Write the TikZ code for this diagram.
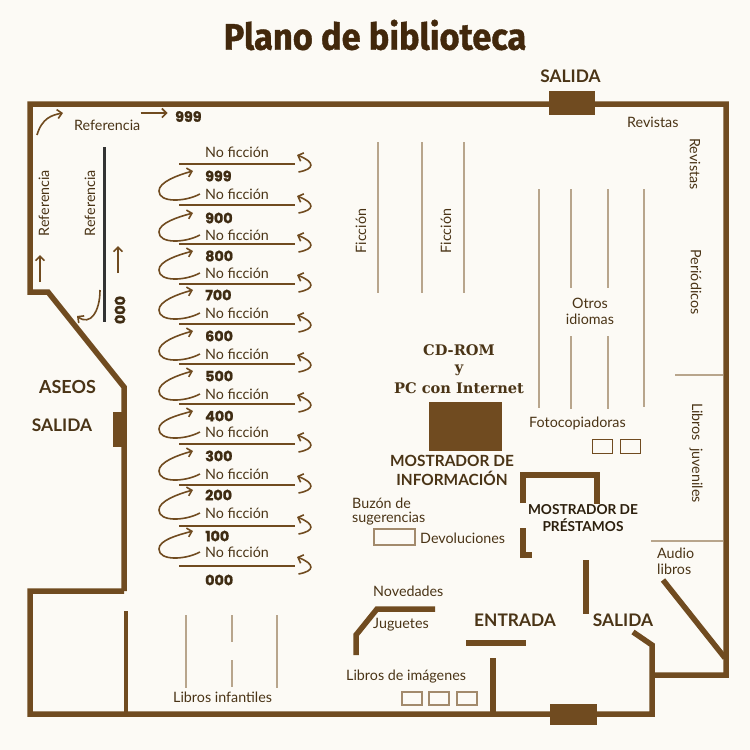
\documentclass[tikz,border=0pt]{standalone}
\usepackage{fontspec}
\usepackage{tikz}
\usetikzlibrary{arrows.meta}
\setmainfont{Lato}
\newfontfamily\numfont[BoldFeatures={FakeBold=1}]{Poppins}
\newfontfamily\titlefont[FakeStretch=0.93,BoldFeatures={FakeBold=1}]{Fira Sans}
\newfontfamily\slabfont{DejaVu Serif}
\definecolor{paper}{HTML}{FCFAF5}
\definecolor{brown}{HTML}{704B20}
\definecolor{tan}{HTML}{B8A58C}
\definecolor{ink}{HTML}{4A3416}
\definecolor{deep}{HTML}{42280C}

\begin{document}
\begin{tikzpicture}[
        x=1pt, y=-1pt,
        wall/.style={draw=brown, line width=5.5pt, miter limit=20},
        door/.style={fill=brown, draw=none},
        shelf/.style={draw=tan, line width=1.6pt},
        rack/.style={draw=brown, line width=2pt},
        flow/.style={draw=brown, line width=1.6pt, -{Straight Barb[length=4.5pt,width=9pt]}},
        tag/.style={font=\fontsize{14.3}{16.5}\selectfont, text=ink, inner sep=0pt, align=center},
        tagl/.style={tag, anchor=west, align=left},
        num/.style={font=\fontsize{14.3}{15}\selectfont\numfont\bfseries, text=ink!85!black, inner sep=0pt},
        head/.style={font=\fontsize{17.3}{19}\selectfont\bfseries, text=ink, inner sep=0pt, align=center},
        slab/.style={font=\fontsize{14.6}{20}\selectfont\slabfont\bfseries, text=ink, inner sep=0pt}
    ]
        \useasboundingbox[fill=paper] (0,0) rectangle (750,750);

        \node[font=\fontsize{37}{40}\selectfont\titlefont\bfseries, text=deep, inner sep=0pt](title) at (375,35){Plano de biblioteca};

        % walls
        \draw[wall] (124,591) -- (30,591) -- (30,714) -- (652,714) -- (652,645) -- (633,632);
        \draw[wall] (652,675) -- (726,675) -- (726,104) -- (30,104) -- (30,292) -- (48,292) -- (124,387) -- (124,591);
        \draw[wall, line width=4.5pt] (126,611) -- (126,714);
        \draw[wall] (663,580) -- (725,658);
        \draw[wall] (523,503) -- (523,475) -- (597,475) -- (597,504);
        \draw[wall] (523,528) -- (523,555) -- (532,555);
        \draw[wall] (586,560) -- (586,614);
        \draw[wall] (356,655) -- (356,635) -- (377,609) -- (435,609);
        \draw[wall] (466,643) -- (526,643);
        \draw[wall] (493,658) -- (493,714);

        % doors and the desk
        \fill[door] (549,91) rectangle (595,115);
        \fill[door] (113,412) rectangle (124,447);
        \fill[door] (550,704) rectangle (597,725);
        \fill[door] (429,402) rectangle (502,451);

        % shelves
        \draw[shelf] (378,142) -- (378,293);
        \draw[shelf] (422,142) -- (422,293);
        \draw[shelf] (464,142) -- (464,293);
        \draw[shelf] (539,189) -- (539,408);
        \draw[shelf] (571,189) -- (571,288);
        \draw[shelf] (571,336) -- (571,409);
        \draw[shelf] (608,189) -- (608,288);
        \draw[shelf] (608,336) -- (608,409);
        \draw[shelf] (644,189) -- (644,407);
        \draw[shelf] (186,615) -- (186,688);
        \draw[shelf] (232,615) -- (232,642);
        \draw[shelf] (232,660) -- (232,687);
        \draw[shelf] (277,615) -- (277,688);
        \draw[shelf] (675,375) -- (723,375);
        \draw[shelf] (651,541) -- (723,541);
        \draw[draw=black!80, line width=3pt] (104,147) -- (104,322);

        % non fiction rows
        \node[tag](nftop) at (237,152){No ficción};
        \foreach \s in {164,205,244,284,324,364,404,444,485,526,566}{
            \draw[rack] (179,\s) -- (295,\s);
            \draw[flow] (298.5,\s+8) .. controls (315,\s+5) and (315,\s-2) .. (297,\s-9);
        }
        \foreach \n/\a/\b in {999/176/194,900/218/235,800/256/273,700/295/313,600/336/354,500/376/394,400/416/432,300/456/474,200/495/513,100/536/552}{
            \node[num, anchor=west](num\n) at (205,\a){\n};
            \node[tag](nf\n) at (237,\b){No ficción};
            \draw[flow] ([xshift=-5pt]nf\n.west) .. controls +(-15,8) and +(0,12) .. ++(-41,-3) .. controls +(0,-9) and +(-15,4) .. ([xshift=-12pt,yshift=5pt]num\n.west);
        }
        \node[num, anchor=west](num000) at (205,580){000};

        % reference corner
        \node[tagl](ref) at (74,125){Referencia};
        \node[num, anchor=west](numtop) at (175,116.5){999};
        \node[num, rotate=90](numref) at (120,310){000};
        \node[tag, rotate=90](refa) at (44,203){Referencia};
        \node[tag, rotate=90](refb) at (90,203){Referencia};
        \coordinate (ca) at (37,135);
        \coordinate (cb) at (63,113);
        \draw[flow] (ca) .. controls (42,118) and (52,115) .. (cb);
        \draw[flow] ([yshift=12pt]ref.east) -- ([xshift=27pt,yshift=12pt]ref.east);
        \draw[flow] (40,282) -- (40,255);
        \draw[flow] (118,273) -- (118,246);
        \draw[flow] (100,290) .. controls (100,312) and (90,326) .. (77,316);

        % middle
        \node[tag, rotate=90](fica) at (361,231){Ficción};
        \node[tag, rotate=90](ficb) at (446,231){Ficción};
        \node[tag](otros) at (590,311.5){Otros\\idiomas};
        \node[slab](cd) at (459,350){CD-ROM};
        \node[slab](cdy) at (459,370){y};
        \node[slab](pc) at (459,388){PC con Internet};
        \node[head, font=\fontsize{15.4}{19}\selectfont\bfseries](info) at (452,470.5){MOSTRADOR DE\\INFORMACIÓN};
        \node[head, font=\fontsize{13.7}{17}\selectfont\bfseries, text=ink!60!black](prest) at (583,518.5){MOSTRADOR DE\\PRÉSTAMOS};

        % right side
        \node[tagl](rev) at (627,122){Revistas};
        \node[tag, rotate=-90](revb) at (695,164){Revistas};
        \node[tag, rotate=-90](per) at (696,282){Periódicos};
        \node[tag, rotate=-90](juv) at (696,453){Libros\ \ juveniles};
        \node[tagl](foto) at (529,423){Fotocopiadoras};
        \node[tagl](audio) at (657,561.5){Audio\\libros};

        % small boxes
        \draw[draw=brown, line width=0.8pt] (592,439) rectangle (612,453);
        \draw[draw=brown, line width=0.8pt] (620,439) rectangle (640,453);
        \draw[draw=tan!70!brown, line width=1.2pt] (374,529) rectangle (415,545);
        \draw[draw=tan!70!brown, line width=1.2pt] (402,692) rectangle (422,705);
        \draw[draw=tan!70!brown, line width=1.2pt] (429,692) rectangle (449,705);
        \draw[draw=tan!70!brown, line width=1.2pt] (457,692) rectangle (477,705);

        % lower labels
        \node[tagl, font=\fontsize{14.3}{13.5}\selectfont](buzon) at (352,511.5){Buzón de\\sugerencias};
        \node[tagl](devol) at (420,538){Devoluciones};
        \node[tagl](nov) at (373,591){Novedades};
        \node[tagl](jug) at (373,624.5){Juguetes};
        \node[tagl](img) at (346,677){Libros de imágenes};
        \node[tagl](inf) at (173,697){Libros infantiles};
        \node[head](entr) at (515,620){ENTRADA};
        \node[head](salr) at (623,620){SALIDA};
        \node[head](salt) at (570.5,76){SALIDA};
        \node[head](sall) at (62,425){SALIDA};
        \node[head, font=\fontsize{18}{19}\selectfont\bfseries](aseos) at (67.5,387){ASEOS};
    \end{tikzpicture}
\end{document}
